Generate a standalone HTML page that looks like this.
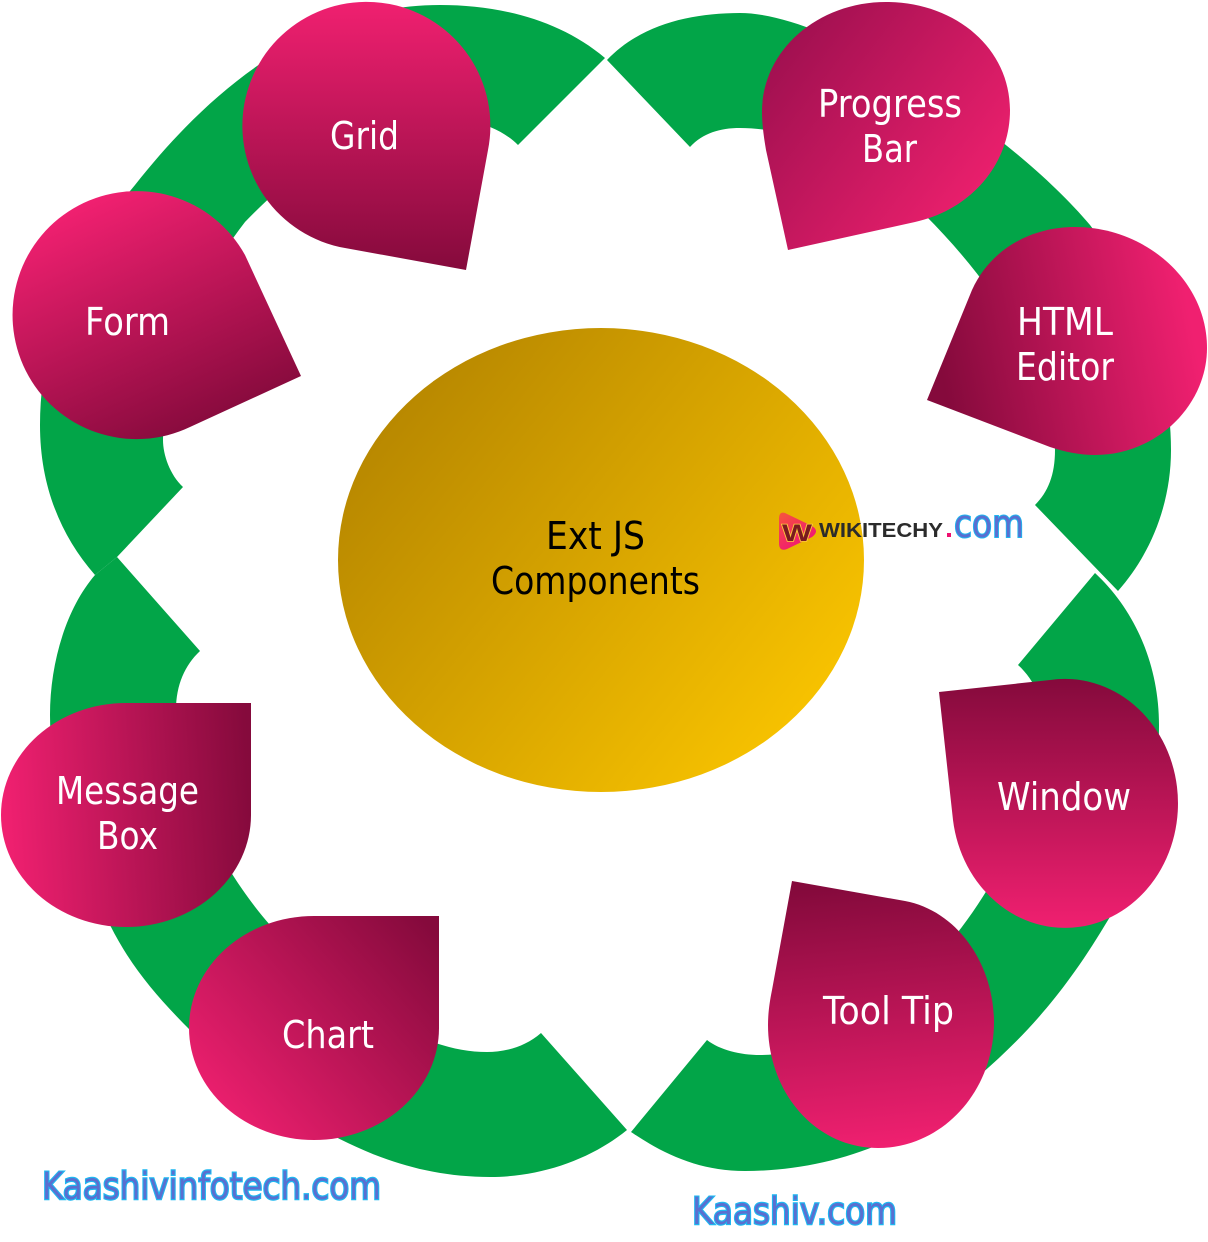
<!DOCTYPE html>
<html><head><meta charset="utf-8"><title>Ext JS Components</title>
<style>
html,body{margin:0;padding:0;background:#fff}
svg{display:block}
text{font-family:"DejaVu Sans","Liberation Sans",sans-serif;font-size:38px;fill:#fff}
.c{fill:#000}
.k{font-size:37px;fill:#5a6fd0;stroke:#1db7f0;stroke-width:2.4;paint-order:stroke}
</style></head><body>
<svg width="1208" height="1242" viewBox="0 0 1208 1242" xmlns="http://www.w3.org/2000/svg">
<defs>
<linearGradient id="gc" gradientUnits="userSpaceOnUse" x1="400" y1="400" x2="800" y2="720"><stop offset="0" stop-color="#b88800"/><stop offset="1" stop-color="#f7c200"/></linearGradient>
<linearGradient id="g1" gradientUnits="userSpaceOnUse" x1="367" y1="2" x2="367" y2="270"><stop offset="0" stop-color="#f02070"/><stop offset="1" stop-color="#850a3c"/></linearGradient>
<linearGradient id="g2" gradientUnits="userSpaceOnUse" x1="105" y1="195" x2="210" y2="430"><stop offset="0" stop-color="#f02070"/><stop offset="1" stop-color="#850a3c"/></linearGradient>
<linearGradient id="g3" gradientUnits="userSpaceOnUse" x1="790" y1="30" x2="1000" y2="190"><stop offset="0" stop-color="#a01050"/><stop offset="1" stop-color="#ee206e"/></linearGradient>
<linearGradient id="g4" gradientUnits="userSpaceOnUse" x1="945" y1="390" x2="1195" y2="340"><stop offset="0" stop-color="#850a3c"/><stop offset="1" stop-color="#f02070"/></linearGradient>
<linearGradient id="g5" gradientUnits="userSpaceOnUse" x1="1060" y1="680" x2="1060" y2="928"><stop offset="0" stop-color="#850a3c"/><stop offset="1" stop-color="#f02070"/></linearGradient>
<linearGradient id="g6" gradientUnits="userSpaceOnUse" x1="860" y1="885" x2="885" y2="1148"><stop offset="0" stop-color="#850a3c"/><stop offset="1" stop-color="#f02070"/></linearGradient>
<linearGradient id="g7" gradientUnits="userSpaceOnUse" x1="430" y1="925" x2="210" y2="1120"><stop offset="0" stop-color="#850a3c"/><stop offset="1" stop-color="#f02070"/></linearGradient>
<linearGradient id="g8" gradientUnits="userSpaceOnUse" x1="251" y1="800" x2="5" y2="815"><stop offset="0" stop-color="#850a3c"/><stop offset="1" stop-color="#f02070"/></linearGradient>
<linearGradient id="gl" x1="0" y1="0" x2="0.7" y2="1"><stop offset="0" stop-color="#f7563a"/><stop offset="1" stop-color="#f0107a"/></linearGradient>
</defs>
<g fill="#02a548">
<path d="M95 575C60 535 40 485 40 425C40 330 80 250 135 185C210 90 310 5 440 5C500 5 560 20 605 58L518 145C505 132 480 118 440 118C370 118 305 160 245 222C200 280 163 360 163 440C163 455 170 475 183 487L117 557Z"/>
<path d="M607 60C640 25 690 13 740 13C830 13 1010 130 1090 225C1140 290 1171 370 1171 450C1171 505 1150 555 1118 591L1035 505C1048 492 1055 475 1055 450C1055 380 1000 290 925 215C850 150 790 128 740 128C720 128 703 133 690 147Z"/>
<path d="M1095 573C1135 610 1159 665 1159 725C1159 800 1140 870 1105 925C1060 1000 1020 1040 980 1075C920 1140 830 1171 745 1171C700 1171 665 1155 631 1132L707 1040C720 1050 740 1055 760 1055C850 1055 940 970 990 885C1030 820 1045 770 1045 725C1045 705 1035 680 1018 665Z"/>
<path d="M117 557L200 651C185 665 176 685 176 710C176 790 230 880 270 925C340 1000 420 1052 487 1052C505 1052 525 1047 541 1033L627 1130C590 1160 540 1177 490 1177C400 1177 335 1140 265 1095C235 1075 210 1050 190 1030C155 995 130 965 110 925C75 860 50 790 50 715C50 665 65 610 95 575Z"/>
</g>
<ellipse cx="601" cy="560" rx="263" ry="232" fill="url(#gc)"/>
<path fill="url(#g1)" d="M466 270L345 248A124 124 0 1 1 488 150Z"/>
<path fill="url(#g2)" d="M301 376L190 427A124 124 0 1 1 245 255Z"/>
<path fill="url(#g3)" d="M788 250L915 222C970 210 1010 165 1010 110C1010 48 955 2 886 2C818 2 762 50 762 112C762 125 764 138 766 150Z"/>
<path fill="url(#g4)" d="M927 400L1050 447C1065 452 1080 455 1095 455C1157 455 1207 405 1207 348C1207 280 1145 227 1075 227C1030 227 990 250 972 290Z"/>
<path fill="url(#g5)" d="M939 692L1050 680A113 124.500 0 1 1 953 820Z"/>
<path fill="url(#g6)" d="M792 881L905 901C958 911 994 965 994 1022C994 1092 942 1148 878 1148C815 1148 768 1092 768 1025C768 1012 770 1000 772 990Z"/>
<path fill="url(#g7)" d="M439 916L314 916A125 112 0 1 0 439 1028Z"/>
<path fill="url(#g8)" d="M251 703L126 703A125 112 0 1 0 251 815Z"/>
<text x="330" y="149" textLength="69" lengthAdjust="spacingAndGlyphs">Grid</text>
<text x="85" y="335" textLength="85" lengthAdjust="spacingAndGlyphs">Form</text>
<text x="818" y="117" textLength="144" lengthAdjust="spacingAndGlyphs">Progress</text>
<text x="862" y="162" textLength="55" lengthAdjust="spacingAndGlyphs">Bar</text>
<text x="1017" y="335" textLength="96" lengthAdjust="spacingAndGlyphs">HTML</text>
<text x="1016" y="380" textLength="98" lengthAdjust="spacingAndGlyphs">Editor</text>
<text x="997" y="810" textLength="134" lengthAdjust="spacingAndGlyphs">Window</text>
<text x="823" y="1024" textLength="131" lengthAdjust="spacingAndGlyphs">Tool Tip</text>
<text x="282" y="1048" textLength="92" lengthAdjust="spacingAndGlyphs">Chart</text>
<text x="56" y="804" textLength="143" lengthAdjust="spacingAndGlyphs">Message</text>
<text x="97" y="849" textLength="61" lengthAdjust="spacingAndGlyphs">Box</text>
<text class="c" x="546" y="549" textLength="99" lengthAdjust="spacingAndGlyphs">Ext JS</text>
<text class="c" x="491" y="594" textLength="209" lengthAdjust="spacingAndGlyphs">Components</text>
<path fill="url(#gl)" d="M785 513L812 526Q820 531 812 537L787 549Q779 552 779 543V519Q779 511 785 513Z"/>
<text x="782" y="541" style="font-family:'Liberation Sans',sans-serif;font-size:24px;font-weight:bold;fill:#7a1a20;stroke:#ffc93c;stroke-width:1.4;paint-order:stroke" textLength="30" lengthAdjust="spacingAndGlyphs">W</text>
<text x="819" y="537" style="font-family:'Liberation Sans',sans-serif;font-size:20px;font-weight:bold;fill:#2b2b2b" textLength="124" lengthAdjust="spacingAndGlyphs">WIKITECHY</text>
<rect x="947" y="533" width="4" height="4" fill="#ee1070"/>
<text class="k" x="954" y="537" style="font-size:38px;stroke-width:2" textLength="70" lengthAdjust="spacingAndGlyphs">com</text>
<text class="k" x="42" y="1199" textLength="339" lengthAdjust="spacingAndGlyphs">Kaashivinfotech.com</text>
<text class="k" x="692" y="1224" textLength="205" lengthAdjust="spacingAndGlyphs">Kaashiv.com</text>
</svg>
</body></html>
